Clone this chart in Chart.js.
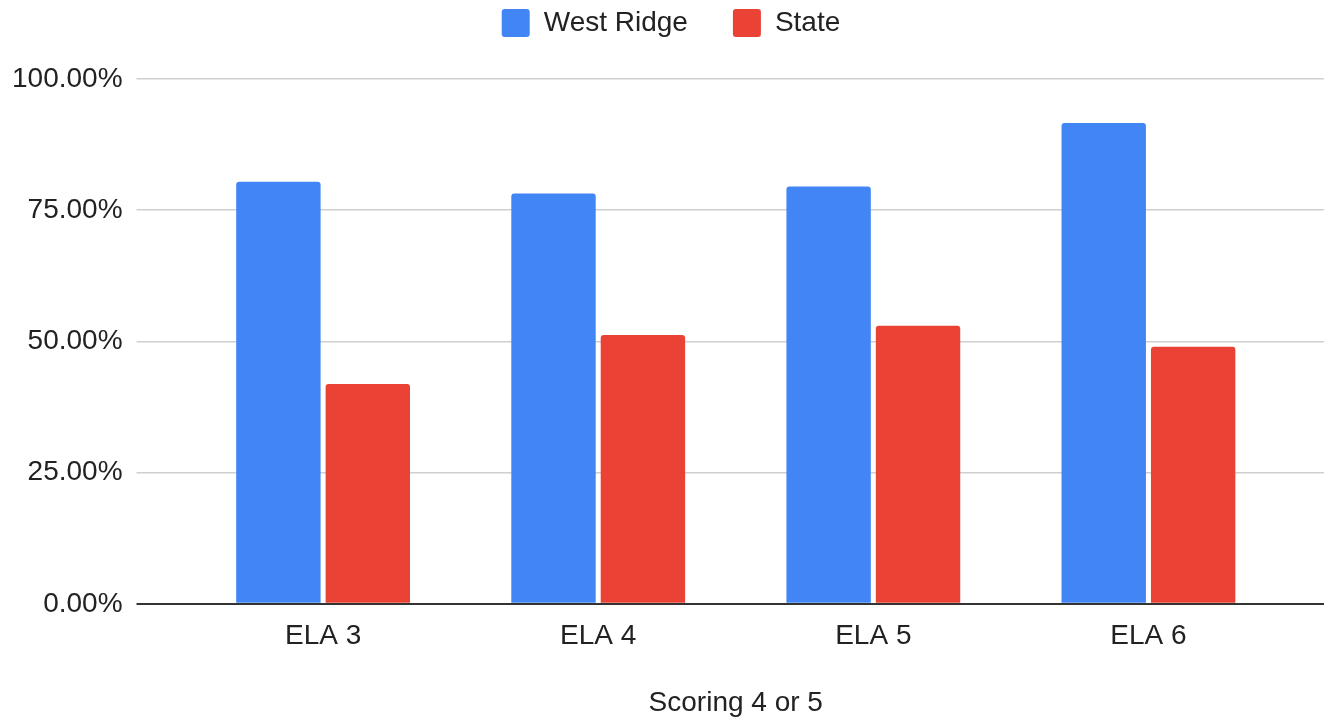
<!DOCTYPE html>
<html>
<head>
<meta charset="utf-8">
<script src="https://cdn.jsdelivr.net/npm/chart.js@4"></script>
<style>
  html, body { margin: 0; padding: 0; background: #fff; }
  #wrap { width: 1324px; height: 718px; position: relative; }
</style>
</head>
<body>
<div id="wrap"><canvas id="score_chart"></canvas></div>
<script>
// Chart data
const categories = ["ELA 3", "ELA 4", "ELA 5", "ELA 6"];
const westRidge = [80.4, 78.2, 79.5, 91.6];
const state = [41.9, 51.2, 53.0, 49.0];
const yTicks = [0, 25, 50, 75, 100];

const fontFamily = "'Liberation Sans', Arial, sans-serif";
Chart.defaults.font.family = fontFamily;
Chart.defaults.font.size = 28;
Chart.defaults.color = "#222";

const gridColor = (ctx) => (ctx.tick && ctx.tick.value === 0 ? "#333" : "#cfcfcf");
const gridWidth = (ctx) => (ctx.tick && ctx.tick.value === 0 ? 2 : 1.6);

// push the plot area down below the legend, nudge legend a bit right
const legendMargin = {
    id: "legendMargin",
    beforeInit(chart) {
        const fit = chart.legend.fit;
        chart.legend.fit = function () {
            fit.bind(chart.legend)();
            this.height += 32;
        };
    },
    afterLayout(chart) {
        chart.legend.left += 10;
        chart.legend.right += 10;
    }
};

const score_chart_ctx = document.getElementById("score_chart").getContext("2d");
const score_chart = new Chart(score_chart_ctx, {
    type: "bar",
    data: {
        labels: categories,
        datasets: [
            {
                label: "West Ridge",
                data: westRidge,
                backgroundColor: "#4285F4",
                borderRadius: 3,
                categoryPercentage: 0.65,
                barPercentage: 0.944
            },
            {
                label: "State",
                data: state,
                backgroundColor: "#EA4335",
                borderRadius: 3,
                categoryPercentage: 0.65,
                barPercentage: 0.944
            }
        ]
    },
    plugins: [legendMargin],
    options: {
        responsive: true,
        maintainAspectRatio: false,
        animation: false,
        layout: {
            padding: { top: -36, left: -2, right: 0, bottom: -5 }
        },
        plugins: {
            legend: {
                position: "top",
                labels: {
                    boxWidth: 28,
                    boxHeight: 28,
                    padding: 45,
                    useBorderRadius: true,
                    borderRadius: 3,
                    color: "#222"
                }
            },
            tooltip: { enabled: false }
        },
        scales: {
            x: {
                grid: { display: false, drawTicks: false },
                border: { display: false },
                ticks: { padding: 16, color: "#222" },
                title: {
                    display: true,
                    text: "Scoring 4 or 5",
                    color: "#222",
                    padding: { top: 17, bottom: 3 }
                }
            },
            y: {
                min: 0,
                max: 100,
                afterBuildTicks: (axis) => { axis.ticks = yTicks.map(v => ({ value: v })); },
                border: { display: false },
                grid: {
                    color: gridColor,
                    lineWidth: gridWidth,
                    tickLength: 49
                },
                ticks: {
                    padding: 14,
                    color: "#222",
                    callback: (v) => v.toFixed(2) + "%"
                }
            },
            y2: {
                position: "right",
                min: 0,
                max: 100,
                afterBuildTicks: (axis) => { axis.ticks = yTicks.map(v => ({ value: v })); },
                border: { display: false },
                grid: {
                    drawOnChartArea: false,
                    color: gridColor,
                    lineWidth: gridWidth,
                    tickLength: 38
                },
                ticks: { display: false }
            }
        }
    }
});
</script>
</body>
</html>
